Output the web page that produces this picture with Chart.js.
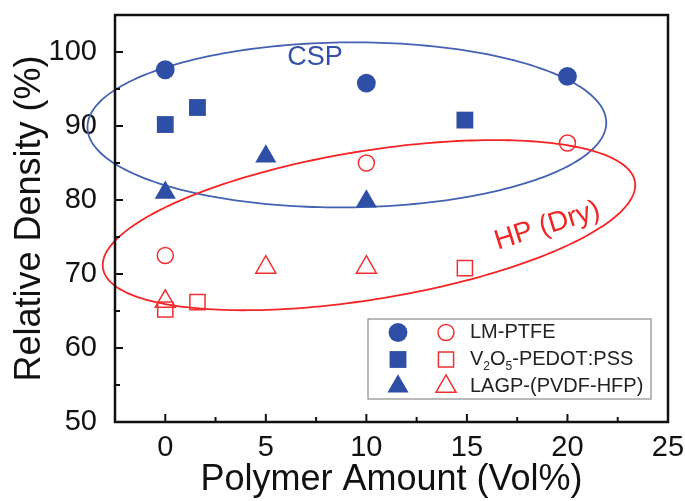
<!DOCTYPE html>
<html>
<head>
<meta charset="utf-8">
<script src="https://cdn.jsdelivr.net/npm/chart.js@4.4.1/dist/chart.umd.min.js"></script>
<style>
  html, body { margin: 0; padding: 0; background: #fff; }
</style>
</head>
<body>
<canvas id="density" width="685" height="501"></canvas>
<script>
// polymer content (vol%) of each composite family
const lmAmount = [0, 10, 20];
const v2o5Amount = [0, 1.6, 14.9];
const lagpAmount = [0, 5, 10];

// relative density (%) - cold sintering process
const lmCsp = [97.6, 95.8, 96.7];
const v2o5Csp = [90.2, 92.5, 90.8];
const lagpCsp = [81.0, 85.9, 79.8];

// relative density (%) - dry hot pressing
const lmHp = [72.5, 85.0, 87.7];
const v2o5Hp = [65.2, 66.2, 70.8];
const lagpHp = [66.3, 70.9, 70.9];

const xTicks = [0, 5, 10, 15, 20, 25];
const xMinor = [2.5, 7.5, 12.5, 17.5, 22.5];
const yTicks = [50, 60, 70, 80, 90, 100];
const yMinor = [55, 65, 75, 85, 95];

// group outlines: centre x, centre y, half-axis (dx, dy), vertical half-axis
const cspRing = [9.03, 90.15, 12.9, 0.3, 11.15];
const hpRing = [10.13, 76.6, 13.24, 5.4, 10.15];

const legendNames = ['LM-PTFE', 'V2O5-PEDOT:PSS', 'LAGP-(PVDF-HFP)'];
const legendShapes = ['circle', 'rect', 'triangle'];

const BLUE = '#2f4ea6';
const BLUE_LINE = '#4462b2';
const RED = '#f03030';
const RED_LINE = '#f42424';
const FONT = "'Liberation Sans', Arial, sans-serif";

Chart.defaults.font.family = FONT;
Chart.defaults.color = '#111';

function pts(xs, ys) {
  return xs.map((x, i) => ({x: x, y: ys[i]}));
}

const sizes = {circle: 9.4, rect: 11.9, triangle: 12.2};
const openSizes = {circle: 8, rect: 10.7, triangle: 11.6};

function filled(label, xs, ys, shape) {
  return {
    label: label, data: pts(xs, ys), pointStyle: shape,
    pointRadius: sizes[shape], pointHoverRadius: sizes[shape],
    backgroundColor: BLUE, borderColor: BLUE, borderWidth: 0
  };
}

function hollow(label, xs, ys, shape) {
  return {
    label: label, data: pts(xs, ys), pointStyle: shape,
    pointRadius: openSizes[shape], pointHoverRadius: openSizes[shape],
    backgroundColor: 'rgba(0,0,0,0)', borderColor: RED, borderWidth: 1.5
  };
}

// same geometry as chart.js point styles, used for the legend swatches
function drawMark(ctx, shape, x, y, r, fill, color) {
  ctx.beginPath();
  if (shape === 'circle') {
    ctx.arc(x, y, r, 0, Math.PI * 2);
  } else if (shape === 'rect') {
    const s = r * Math.SQRT1_2;
    ctx.rect(x - s, y - s, 2 * s, 2 * s);
  } else {
    ctx.moveTo(x, y - r);
    ctx.lineTo(x + r * 0.866, y + r * 0.5);
    ctx.lineTo(x - r * 0.866, y + r * 0.5);
    ctx.closePath();
  }
  if (fill) {
    ctx.fillStyle = color;
    ctx.fill();
  } else {
    ctx.strokeStyle = color;
    ctx.lineWidth = 1.5;
    ctx.stroke();
  }
}

function traceRing(ctx, xs, ys, ring) {
  const [cx, cy, ux, uy, vy] = ring;
  ctx.beginPath();
  for (let i = 0; i <= 240; i++) {
    const t = i / 240 * Math.PI * 2;
    const px = xs.getPixelForValue(cx + ux * Math.cos(t));
    const py = ys.getPixelForValue(cy + uy * Math.cos(t) + vy * Math.sin(t));
    if (i === 0) ctx.moveTo(px, py); else ctx.lineTo(px, py);
  }
  ctx.closePath();
}

const ringsPlugin = {
  id: 'rings',
  beforeDatasetsDraw(chart) {
    const ctx = chart.ctx, xs = chart.scales.x, ys = chart.scales.y;
    ctx.save();
    ctx.lineWidth = 1.8;
    ctx.strokeStyle = BLUE_LINE;
    traceRing(ctx, xs, ys, cspRing);
    ctx.stroke();
    ctx.strokeStyle = RED_LINE;
    traceRing(ctx, xs, ys, hpRing);
    ctx.stroke();

    ctx.textAlign = 'center';
    ctx.textBaseline = 'middle';
    ctx.fillStyle = '#3550a8';
    ctx.font = '27px ' + FONT;
    ctx.fillText('CSP', xs.getPixelForValue(7.45), ys.getPixelForValue(99.2));

    ctx.translate(xs.getPixelForValue(19.0), ys.getPixelForValue(76.5));
    ctx.rotate(-17.5 * Math.PI / 180);
    ctx.fillStyle = '#ee2626';
    ctx.font = '28px ' + FONT;
    ctx.fillText('HP (Dry)', 0, 0);
    ctx.restore();
  }
};

// text with every digit set as a subscript
function drawFormula(ctx, text, x, y) {
  let cx = x;
  for (const ch of text) {
    const sub = /[0-9]/.test(ch);
    ctx.font = (sub ? '12px ' : '20px ') + FONT;
    ctx.fillText(ch, cx, sub ? y + 7 : y);
    cx += ctx.measureText(ch).width;
  }
}

const framePlugin = {
  id: 'frame',
  afterDraw(chart) {
    const ctx = chart.ctx, a = chart.chartArea;
    const xs = chart.scales.x, ys = chart.scales.y;
    ctx.save();

    // legend box
    const w = 283, h = 80;
    const lx = a.right - 17 - w, ly = a.bottom - 23 - h;
    ctx.fillStyle = '#fff';
    ctx.fillRect(lx, ly, w, h);
    ctx.strokeStyle = '#8a8a8a';
    ctx.lineWidth = 1.2;
    ctx.strokeRect(lx, ly, w, h);
    ctx.textBaseline = 'middle';
    ctx.textAlign = 'left';
    legendNames.forEach((name, i) => {
      const ry = ly + 13.5 + i * 27;
      const shape = legendShapes[i];
      drawMark(ctx, shape, lx + 30, ry, sizes[shape], true, BLUE);
      drawMark(ctx, shape, lx + 78, ry, openSizes[shape], false, RED);
      ctx.fillStyle = '#222';
      drawFormula(ctx, name, lx + 102, ry);
    });

    // axes box with inward ticks
    ctx.strokeStyle = '#111';
    ctx.lineWidth = 2.5;
    ctx.strokeRect(a.left, a.top, a.right - a.left, a.bottom - a.top);
    ctx.lineWidth = 2;
    ctx.beginPath();
    xTicks.forEach(v => {
      const p = xs.getPixelForValue(v);
      if (p < a.right - 2) { ctx.moveTo(p, a.bottom); ctx.lineTo(p, a.bottom - 8); }
    });
    xMinor.forEach(v => {
      const p = xs.getPixelForValue(v);
      ctx.moveTo(p, a.bottom); ctx.lineTo(p, a.bottom - 5);
    });
    yTicks.forEach(v => {
      const p = ys.getPixelForValue(v);
      ctx.moveTo(a.left, p); ctx.lineTo(a.left + 8, p);
    });
    yMinor.forEach(v => {
      const p = ys.getPixelForValue(v);
      ctx.moveTo(a.left, p); ctx.lineTo(a.left + 5, p);
    });
    ctx.stroke();
    ctx.restore();
  }
};

new Chart(document.getElementById('density'), {
  type: 'scatter',
  data: {
    datasets: [
      filled('LM-PTFE CSP', lmAmount, lmCsp, 'circle'),
      filled('V2O5-PEDOT:PSS CSP', v2o5Amount, v2o5Csp, 'rect'),
      filled('LAGP-(PVDF-HFP) CSP', lagpAmount, lagpCsp, 'triangle'),
      hollow('LM-PTFE HP', lmAmount, lmHp, 'circle'),
      hollow('V2O5-PEDOT:PSS HP', v2o5Amount, v2o5Hp, 'rect'),
      hollow('LAGP-(PVDF-HFP) HP', lagpAmount, lagpHp, 'triangle')
    ]
  },
  options: {
    responsive: false,
    animation: false,
    devicePixelRatio: 1,
    layout: {padding: {top: 15, right: 17, left: 0, bottom: 0}},
    plugins: {legend: {display: false}, tooltip: {enabled: false}},
    scales: {
      x: {
        type: 'linear', min: -2.5, max: 25,
        afterBuildTicks: s => { s.ticks = xTicks.map(v => ({value: v})); },
        afterFit: s => { s.height = 79; s.paddingLeft = 0; s.paddingRight = 0; },
        grid: {display: false}, border: {display: false},
        ticks: {padding: 1, autoSkip: false, maxRotation: 0, color: '#111', font: {size: 29}},
        title: {display: true, text: 'Polymer Amount (Vol%)', color: '#111',
                font: {size: 36, lineHeight: 1}, padding: {top: 0, bottom: 2.5}}
      },
      y: {
        type: 'linear', min: 50, max: 105,
        afterBuildTicks: s => { s.ticks = yTicks.map(v => ({value: v})); },
        afterFit: s => { s.width = 115; s.paddingTop = 0; s.paddingBottom = 0; },
        grid: {display: false}, border: {display: false},
        ticks: {padding: 10, autoSkip: false, color: '#111', font: {size: 29}},
        title: {display: true, text: 'Relative Density (%)', color: '#111',
                font: {size: 36, lineHeight: 1.2}, padding: {top: 8, bottom: 0}}
      }
    }
  },
  plugins: [ringsPlugin, framePlugin]
});
</script>
</body>
</html>
